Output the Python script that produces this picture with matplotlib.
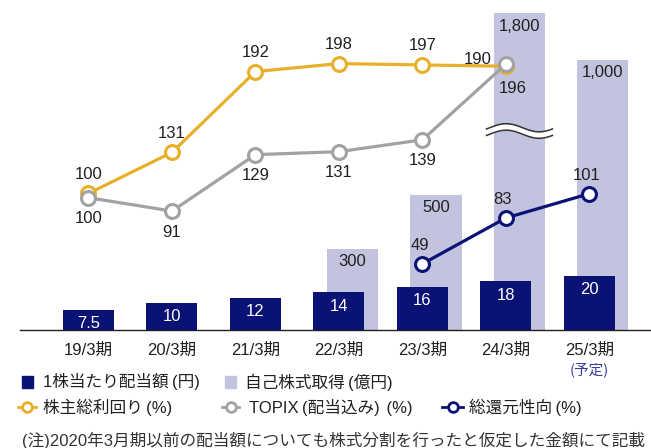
import numpy as np
import matplotlib
matplotlib.use("Agg")
import matplotlib.pyplot as plt
from matplotlib.patches import Rectangle

plt.rcParams['font.family'] = ['Liberation Sans', 'Noto Sans CJK JP']

# data
PERIODS = ['19/3期', '20/3期', '21/3期', '22/3期', '23/3期', '24/3期', '25/3期']
DIVIDEND = [7.5, 10, 12, 14, 16, 18, 20]          # 1株当たり配当額 (円)
BUYBACK_POS = [3, 4, 5, 6]
BUYBACK = [300, 500, 1800, 1000]                   # 自己株式取得 (億円)
TSR = [100, 131, 192, 198, 197, 196]               # 株主総利回り (%)
TOPIX = [100, 91, 129, 131, 139, 190]              # TOPIX(配当込み) (%)
PAYOUT_POS = [4, 5, 6]
PAYOUT = [49, 83, 101]                             # 総還元性向 (%)

NAVY = '#0b1276'
LIGHT = '#c2c3df'
YELLOW = '#e8b02a'
GREY = '#a2a2a2'
TEXT = '#231f20'

W, H = 651, 448
fig = plt.figure(figsize=(W / 100, H / 100), dpi=100)

# main axes: buyback bars (the 1,800 bar is cut at the top of the axes)
ax = fig.add_axes([20 / W, 118 / H, 630 / W, 317 / H])
ax.set_xlim(-0.82, 6.725)
ax.set_ylim(0, 1174)

ax_div = ax.twinx()
ax_div.set_ylim(0, 117.4)
ax_tsr = ax.twinx()
ax_tsr.set_ylim(-3.1, 236.2)
ax_tpx = ax.twinx()
ax_tpx.set_ylim(10.9, 224.4)
ax_pay = ax.twinx()
ax_pay.set_ylim(0, 234.8)

for a in [ax, ax_div, ax_tsr, ax_tpx, ax_pay]:
    for s in a.spines.values():
        s.set_visible(False)
    a.set_yticks([])
ax.spines['bottom'].set_visible(True)
ax.spines['bottom'].set_color(TEXT)
ax.spines['bottom'].set_linewidth(1.0)

ax.set_xticks(range(len(PERIODS)))
ax.set_xticklabels(PERIODS, fontsize=12, color=TEXT)
ax.tick_params(axis='x', length=0, pad=9)
ax.annotate('(予定)', xy=(6, 0), xycoords=('data', 'axes fraction'),
            xytext=(0, -40), textcoords='offset pixels',
            ha='center', va='center', fontsize=10.5, color='#3a3f9e',
            family=['Noto Sans CJK JP'])

bw = 0.611
off = 0.162

# buyback bars
bx = np.array(BUYBACK_POS) + off
ax.bar(bx, BUYBACK, width=bw, color=LIGHT, zorder=1)
for x, v in zip(bx, BUYBACK):
    top = min(v, ax.get_ylim()[1])
    ax.annotate(f'{v:,}', (x, top), xytext=(0, -13), textcoords='offset pixels',
                ha='center', va='center', fontsize=12, color=TEXT, zorder=3)

# break mark on the 1,800 bar
t = np.linspace(-0.3, 2 * np.pi - 0.3, 120)
xs = bx[2] + (t + 0.3) / (2 * np.pi) * 0.79 - 0.395
yc = 737
ys = 15 * np.sin(t)
ax.fill_between(xs, yc - 12 + ys, yc + 12 + ys, color='white', zorder=2, clip_on=False, lw=0)
ax.plot(xs, yc + 12 + ys, color='#333333', lw=1.1, zorder=2.5, clip_on=False)
ax.plot(xs, yc - 12 + ys, color='#333333', lw=1.1, zorder=2.5, clip_on=False)

# dividend bars
dx = np.arange(len(DIVIDEND))
ax_div.bar(dx, DIVIDEND, width=bw, color=NAVY, zorder=1)
for x, v in zip(dx, DIVIDEND):
    ax_div.annotate(f'{v:g}', (x, v), xytext=(0, -14), textcoords='offset pixels',
                    ha='center', va='center', fontsize=12, color='white')

line_kw = dict(lw=2.3, marker='o', ms=10, mfc='white', mew=2.2, clip_on=False)

# TSR line
tx = np.arange(len(TSR))
ax_tsr.plot(tx, TSR, color=YELLOW, mec=YELLOW, **line_kw)
for x, v in zip(tx, TSR):
    dxy = (7, -22) if v == TSR[-1] else (0, 19)
    ax_tsr.annotate(f'{v}', (x, v), xytext=dxy, textcoords='offset pixels',
                    ha='center', va='center', fontsize=12, color=TEXT)

# TOPIX line
gx = np.arange(len(TOPIX))
ax_tpx.plot(gx, TOPIX, color=GREY, mec=GREY, **line_kw)
for x, v in zip(gx, TOPIX):
    dxy = (-28, 5) if v == TOPIX[-1] else (0, -21)
    ax_tpx.annotate(f'{v}', (x, v), xytext=dxy, textcoords='offset pixels',
                    ha='center', va='center', fontsize=12, color=TEXT)

# payout ratio line
ax_pay.plot(PAYOUT_POS, PAYOUT, color=NAVY, mec=NAVY, **line_kw)
for x, v in zip(PAYOUT_POS, PAYOUT):
    ax_pay.annotate(f'{v}', (x, v), xytext=(-3, 18), textcoords='offset pixels',
                    ha='center', va='center', fontsize=12, color=TEXT)

# legend + note, laid out in pixel coordinates
lg = fig.add_axes([0, 0, 1, 1])
lg.set_xlim(0, W)
lg.set_ylim(H, 0)
lg.axis('off')
lg.patch.set_visible(False)

TS = '\u2009'  # thin space, to widen the brackets like the original's
lg.add_patch(Rectangle((22, 376), 11, 12, color=NAVY))
lg.text(43, 382, f'1株当たり配当額{TS}(円)', va='center', fontsize=12, color=TEXT)
lg.add_patch(Rectangle((225, 376), 11, 12, color=LIGHT))
lg.text(245, 382, f'自己株式取得{TS}(億円)', va='center', fontsize=12, color=TEXT)

for x0, x1, c, label, tx0 in [(18, 36, YELLOW, f'株主総利回り{TS}(%)', 43),
                              (222, 239, GREY, f'TOPIX{TS}(配当込み){TS}{TS}(%)', 249),
                              (442, 463, NAVY, f'総還元性向{TS}(%)', 469)]:
    lg.plot([x0, x1], [407, 407], color=c, lw=2)
    lg.plot([(x0 + x1) / 2], [407], 'o', ms=7, mfc='white', mec=c, mew=2)
    lg.text(tx0, 407, label, va='center', fontsize=12, color=TEXT)

lg.text(22, 440, '(注)2020年3月期以前の配当額についても株式分割を行ったと仮定した金額にて記載',
        va='center', fontsize=12, color='#333333')

fig.savefig('out.png', dpi=100)
